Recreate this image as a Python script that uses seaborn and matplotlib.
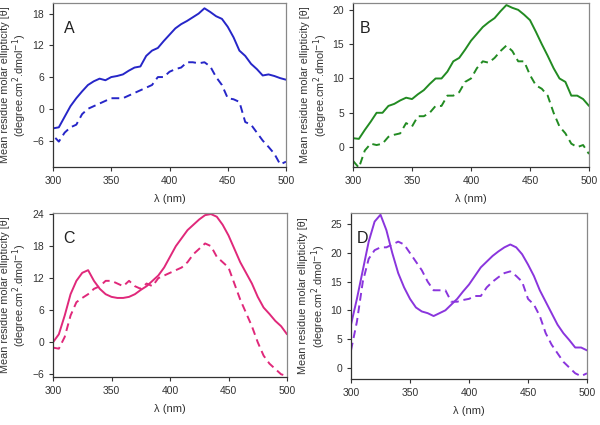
import numpy as np
import pandas as pd
import matplotlib
matplotlib.use("Agg")
import matplotlib.pyplot as plt
import seaborn as sns

# ---------------------------------------------------------------------------
# Data (wavelength in nm, ellipticity values)
# ---------------------------------------------------------------------------

wl_a_solid = [300, 305, 310, 315, 320, 325, 330, 335, 340, 345, 350, 355, 360, 365, 370, 375,
              380, 385, 390, 395, 400, 405, 410, 415, 420, 425, 430, 435, 440, 445, 450, 455,
              460, 465, 470, 475, 480, 485, 490, 495, 500]
a_solid = [-3.7, -3.5, -1.5, 0.5, 2.0, 3.3, 4.5, 5.2, 5.7, 5.4, 6.0, 6.2, 6.5, 7.2, 7.8, 8.0,
           10.0, 11.0, 11.5, 12.8, 14.0, 15.2, 16.0, 16.6, 17.3, 18.0, 19.0, 18.3, 17.5, 17.0, 15.5, 13.5,
           11.0, 10.0, 8.5, 7.5, 6.3, 6.5, 6.2, 5.8, 5.5]
wl_a_dash = [302, 305, 310, 315, 320, 325, 330, 335, 340, 345, 350, 355, 360, 365, 370, 375,
             380, 385, 390, 395, 400, 405, 410, 415, 420, 425, 430, 435, 440, 445, 450, 455,
             460, 465, 470, 475, 480, 485, 490, 495, 500]
a_dash = [-5.5, -6.2, -4.5, -3.5, -3.0, -1.0, 0.0, 0.5, 1.0, 1.5, 2.0, 2.0, 2.0, 2.5, 3.0, 3.5,
          4.0, 4.5, 6.0, 6.0, 7.0, 7.5, 7.8, 8.8, 8.8, 8.6, 8.8, 8.0, 6.0, 4.5, 2.0, 1.8,
          1.3, -2.5, -3.0, -4.5, -6.0, -7.2, -8.5, -10.5, -10.0]

wl_b = [300, 305, 310, 315, 320, 325, 330, 335, 340, 345, 350, 355, 360, 365, 370, 375,
        380, 385, 390, 395, 400, 405, 410, 415, 420, 425, 430, 435, 440, 445, 450, 455,
        460, 465, 470, 475, 480, 485, 490, 495, 500]
b_solid = [1.3, 1.2, 2.5, 3.7, 5.0, 5.0, 6.0, 6.3, 6.8, 7.2, 7.0, 7.7, 8.3, 9.2, 10.0, 10.0,
           11.0, 12.5, 13.0, 14.2, 15.5, 16.5, 17.5, 18.2, 18.8, 19.8, 20.7, 20.3, 20.0, 19.3, 18.5, 16.8,
           15.0, 13.3, 11.5, 10.0, 9.5, 7.5, 7.5, 7.0, 6.0]
b_dash = [-2.0, -3.0, -0.5, 0.5, 0.3, 0.5, 1.5, 1.8, 2.0, 3.5, 3.0, 4.5, 4.5, 5.0, 6.0, 6.0,
          7.5, 7.5, 8.0, 9.5, 10.0, 11.5, 12.5, 12.3, 13.0, 14.0, 14.8, 14.0, 12.5, 12.5, 10.5, 9.0,
          8.5, 7.5, 5.0, 3.0, 2.0, 0.5, 0.0, 0.3, -1.0]

wl_c = [300, 305, 310, 315, 320, 325, 330, 335, 340, 345, 350, 355, 360, 365, 370, 375,
        380, 385, 390, 395, 400, 405, 410, 415, 420, 425, 430, 435, 440, 445, 450, 455,
        460, 465, 470, 475, 480, 485, 490, 495, 500]
c_solid = [0.0, 1.5, 5.0, 9.0, 11.5, 13.0, 13.5, 11.5, 10.0, 9.0, 8.5, 8.3, 8.3, 8.5, 9.0, 9.8,
           10.5, 11.5, 12.5, 14.0, 16.0, 18.0, 19.5, 21.0, 22.0, 23.0, 23.8, 24.0, 23.5, 22.0, 20.0, 17.5,
           15.0, 13.0, 11.0, 8.5, 6.5, 5.3, 4.0, 3.0, 1.5]
c_dash = [-1.0, -1.2, 1.0, 5.0, 7.5, 8.3, 9.0, 10.0, 10.5, 11.5, 11.5, 11.0, 10.5, 11.5, 10.5, 10.0,
          11.0, 10.5, 12.0, 12.5, 13.0, 13.5, 14.0, 15.0, 16.5, 17.5, 18.5, 18.0, 16.0, 15.0, 14.0, 11.0,
          8.0, 5.5, 3.0, 0.0, -2.5, -4.0, -5.0, -6.0, -6.3]

wl_d = [300, 305, 310, 315, 320, 325, 330, 335, 340, 345, 350, 355, 360, 365, 370, 375,
        380, 385, 390, 395, 400, 405, 410, 415, 420, 425, 430, 435, 440, 445, 450, 455,
        460, 465, 470, 475, 480, 485, 490, 495, 500]
d_solid = [7.5, 12.0, 17.0, 22.0, 25.5, 26.7, 24.0, 20.0, 16.5, 14.0, 12.0, 10.5, 9.8, 9.5, 9.0, 9.5,
           10.0, 11.0, 12.0, 13.3, 14.5, 16.0, 17.5, 18.5, 19.5, 20.3, 21.0, 21.5, 21.0, 19.8, 18.0, 16.0,
           13.5, 11.5, 9.5, 7.5, 6.0, 4.8, 3.5, 3.5, 3.0]
d_dash = [3.0, 8.0, 15.0, 19.0, 20.5, 21.0, 21.0, 21.5, 22.0, 21.5, 20.0, 18.5, 17.0, 15.0, 13.5, 13.5,
          13.5, 11.5, 11.5, 11.8, 12.0, 12.5, 12.5, 14.0, 15.0, 15.8, 16.5, 16.8, 16.0, 15.0, 12.0, 11.0,
          9.0, 6.0, 4.0, 2.5, 1.0, 0.0, -1.0, -1.5, -1.0]

panels = [
    ("A", wl_a_solid, a_solid, wl_a_dash, a_dash, "#2626c8", (-11, 20), [-6, 0, 6, 12, 18]),
    ("B", wl_b, b_solid, wl_b, b_dash, "#228b22", (-2.9, 21), [0, 5, 10, 15, 20]),
    ("C", wl_c, c_solid, wl_c, c_dash, "#e0287a", (-6.5, 24.2), [-6, 0, 6, 12, 18, 24]),
    ("D", wl_d, d_solid, wl_d, d_dash, "#8a35dd", (-2, 27), [0, 5, 10, 15, 20, 25]),
]

# axes boxes in pixels (left, top, right, bottom) on the 600x425 canvas
boxes = [(53, 3, 286, 167), (353, 3, 589, 167), (53, 213, 287, 377), (351, 213, 587, 379)]
letter_x = [0.045, 0.03, 0.045, 0.025]

sns.set_style("white")
plt.rcParams["font.family"] = ["Liberation Sans", "DejaVu Sans"]

W, H = 600, 425
fig = plt.figure(figsize=(6, 4.25), dpi=100)

ylabel = "Mean residue molar ellipticity [θ]\n(degree.cm$^2$.dmol$^{-1}$)"

for (letter, xs, ys, xd, yd, color, ylim, yticks), (l, t, r, b), lx in zip(panels, boxes, letter_x):
    ax = fig.add_axes([l / W, 1 - b / H, (r - l) / W, (b - t) / H])
    sns.lineplot(x=xs, y=ys, ax=ax, color=color, lw=1.4)
    sns.lineplot(x=xd, y=yd, ax=ax, color=color, lw=1.4, linestyle=(0, (4, 2.5)))
    ax.set_xlim(300, 500)
    ax.set_ylim(*ylim)
    ax.set_xticks([300, 350, 400, 450, 500])
    ax.set_yticks(yticks)
    ax.tick_params(labelsize=7.5, length=3, direction="out", colors="#333333",
                   left=True, bottom=True)
    for s in ax.spines.values():
        s.set_color("#888888")
        s.set_linewidth(0.9)
    ax.spines["left"].set_color("#333333")
    ax.spines["bottom"].set_color("#333333")
    ax.set_xlabel("λ (nm)", fontsize=8, color="#333333", labelpad=6)
    ax.set_ylabel(ylabel, fontsize=7.8, color="#333333", labelpad=2, linespacing=1.05)
    ax.text(lx, 0.82, letter, transform=ax.transAxes, fontsize=11.5, color="#222222")

fig.savefig("out.png", dpi=100)
